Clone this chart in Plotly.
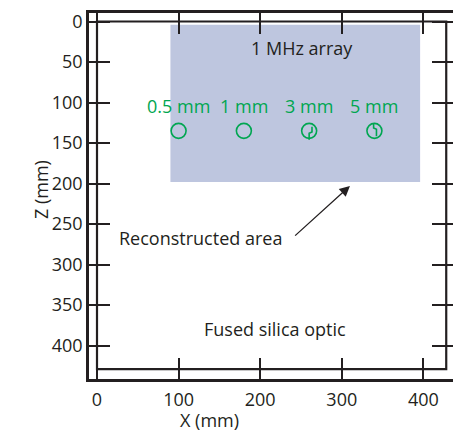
import plotly.graph_objects as go

# ---- data ----
tick_vals = [0, 100, 200, 300, 400]
z_tick_vals = [0, 50, 100, 150, 200, 250, 300, 350, 400]
defect_labels = ["0.5 mm", "1 mm", "3 mm", "5 mm"]
defect_x = [100, 180, 260, 340]
defect_z = [135, 135, 135, 135]
label_z = [104, 104, 104, 104]
recon_x = [90, 396]
recon_z = [4, 198]
optic_x = [0, 428]
optic_z = [0, 429]
# crack offsets (relative to circle centre) for 3 mm and 5 mm defects
crack3_dx = [3.5, 3.5, 0, 0]
crack3_dz = [-5, 1.5, 3, 11]
crack5_dx = [-1, -1, 2.5, 2.5]
crack5_dz = [-8.5, -3.5, -2, 6.5]

DARK = "#231f20"
GREEN = "#00a651"
FONT = "Open Sans"

fig = go.Figure()

# reconstructed area
fig.add_shape(type="rect", x0=recon_x[0], x1=recon_x[1], y0=recon_z[0], y1=recon_z[1],
              fillcolor="#bec6df", line_width=0, layer="below")
# inner optic frame
fig.add_shape(type="rect", x0=optic_x[0], x1=optic_x[1], y0=optic_z[0], y1=optic_z[1],
              line=dict(color=DARK, width=2.2), fillcolor="rgba(0,0,0,0)", layer="above")

fig.add_trace(go.Scatter(x=defect_x, y=defect_z, mode="markers",
                         marker=dict(symbol="circle-open", size=15, color=GREEN,
                                     line=dict(width=1.6, color=GREEN)),
                         showlegend=False, hoverinfo="skip"))
fig.add_trace(go.Scatter(x=[defect_x[2] + d for d in crack3_dx],
                         y=[defect_z[2] + d for d in crack3_dz], mode="lines",
                         line=dict(color=GREEN, width=1.6), showlegend=False, hoverinfo="skip"))
fig.add_trace(go.Scatter(x=[defect_x[3] + d for d in crack5_dx],
                         y=[defect_z[3] + d for d in crack5_dz], mode="lines",
                         line=dict(color=GREEN, width=1.6), showlegend=False, hoverinfo="skip"))

for lx, lz, lt in zip(defect_x, label_z, defect_labels):
    fig.add_annotation(x=lx, y=lz, text=lt, showarrow=False,
                       font=dict(family=FONT, size=18, color=GREEN))

fig.add_annotation(x=251, y=33, text="1 MHz array", showarrow=False,
                   font=dict(family=FONT, size=18, color=DARK))
fig.add_annotation(x=218, y=380, text="Fused silica optic", showarrow=False,
                   font=dict(family=FONT, size=18, color=DARK))
fig.add_annotation(x=127, y=267, text="Reconstructed area", showarrow=False,
                   font=dict(family=FONT, size=18, color=DARK))
fig.add_annotation(x=310, y=203, ax=241, ay=266, axref="x", ayref="y", xref="x", yref="y",
                   text="", showarrow=True, arrowhead=2, arrowsize=1.6, arrowwidth=1.3,
                   arrowcolor=DARK)

# axis titles placed in paper space
fig.add_annotation(x=0.5, y=-0.165, xref="paper", yref="paper", text="X (mm)", showarrow=False,
                   font=dict(family=FONT, size=18, color=DARK), xshift=-62, yshift=5)
fig.add_annotation(x=0, y=0.5, xref="paper", yref="paper", text="Z (mm)", showarrow=False,
                   textangle=-90, font=dict(family=FONT, size=18, color=DARK), xshift=-62, yshift=6)

axis_common = dict(
    showgrid=False, zeroline=False, showline=True, linecolor=DARK, linewidth=2.5,
    mirror="allticks", ticks="inside", ticklen=21, tickwidth=1.5, tickcolor=DARK,
    tickfont=dict(family=FONT, size=18, color=DARK), automargin=False, layer="above traces",
)

fig.update_xaxes(range=[-9.8, 436.3], tickvals=tick_vals, ticklabelstandoff=3, **axis_common)
fig.update_yaxes(range=[441.3, -10.5], tickvals=z_tick_vals, **axis_common)

fig.update_layout(width=453, height=432, margin=dict(l=89, r=0, t=13, b=53, autoexpand=False),
                  plot_bgcolor="white", paper_bgcolor="white", showlegend=False)

fig.write_html("out.html", config={"displayModeBar": False},
               post_script="document.body.style.margin='0px';document.body.style.overflow='hidden';")
